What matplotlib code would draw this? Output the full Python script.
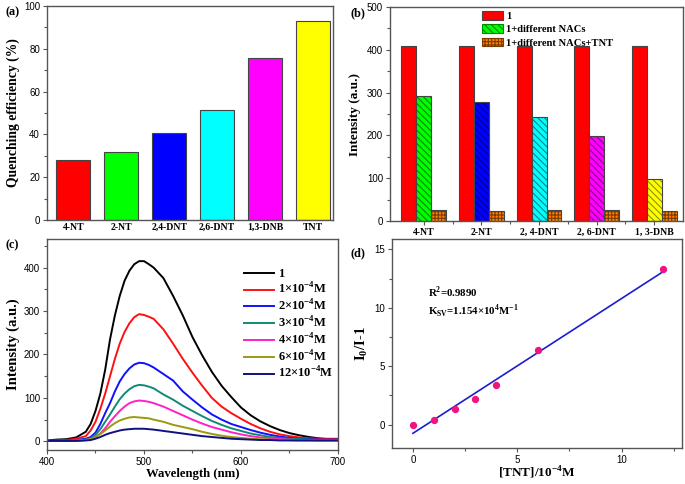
import numpy as np
import matplotlib.pyplot as plt
from matplotlib.patches import Patch
from matplotlib.ticker import MultipleLocator, FixedLocator

plt.rcParams['font.family'] = 'Liberation Sans'
plt.rcParams['mathtext.fontset'] = 'custom'
plt.rcParams['mathtext.rm'] = 'Liberation Serif'
plt.rcParams['mathtext.bf'] = 'Liberation Serif:bold'
plt.rcParams['hatch.linewidth'] = 0.8

# ---- (a) quenching efficiency
nacs_a = ['4-NT', '2-NT', '2,4-DNT', '2,6-DNT', '1,3-DNB', 'TNT']
quench = [28.0, 32.0, 40.5, 51.3, 75.8, 92.8]
colors_a = ['#ff0000', '#00ff00', '#0000ff', '#00ffff', '#ff00ff', '#ffff00']

# ---- (b) intensity
nacs_b = ['4-NT', '2-NT', '2, 4-DNT', '2, 6-DNT', '1, 3-DNB']
int_1 = [408, 408, 408, 408, 408]
int_nac = [293, 278, 242, 198, 99]
int_nac_tnt = [25, 24, 26, 25, 23]
colors_nac = ['#00ff00', '#0000ff', '#00ffff', '#ff00ff', '#ffff00']
hatch_nac = ['#008800', '#000090', '#008888', '#900090', '#909000']

# ---- (c) emission spectra
wl = [400, 410, 420, 430, 440, 445, 450, 455, 460, 465, 470, 475, 480, 485, 490, 495,
      500, 505, 510, 520, 530, 540, 550, 560, 570, 580, 590, 600, 610, 620, 630, 640,
      650, 660, 670, 680, 690, 700]
spec_0 = [2, 4, 5, 9, 22, 40, 70, 110, 165, 235, 290, 335, 370, 393, 408, 415,
          415, 408, 400, 376, 335, 290, 240, 198, 160, 128, 102, 78, 60, 46, 35, 26,
          19, 14, 10, 7, 5, 4]
spec_1 = [1, 2, 3, 6, 12, 25, 45, 75, 110, 150, 190, 225, 252, 272, 286, 293,
          291, 287, 282, 258, 225, 190, 158, 128, 100, 80, 65, 52, 40, 30, 22, 16,
          12, 9, 7, 6, 6, 6]
spec_2 = [1, 1, 2, 3, 6, 10, 20, 40, 65, 88, 115, 138, 155, 168, 177, 181,
          180, 176, 170, 155, 140, 115, 96, 78, 62, 50, 40, 33, 26, 20, 15, 11,
          8, 6, 5, 4, 4, 4]
spec_3 = [1, 1, 1, 2, 4, 7, 15, 28, 45, 62, 80, 97, 110, 120, 127, 130,
          129, 126, 122, 108, 96, 82, 70, 58, 47, 38, 30, 24, 18, 14, 10, 8,
          6, 5, 4, 3, 3, 3]
spec_4 = [1, 1, 1, 2, 3, 5, 10, 18, 30, 45, 58, 70, 80, 88, 92, 94,
          93, 91, 88, 80, 70, 60, 50, 41, 33, 27, 21, 16, 12, 9, 7, 5,
          4, 3, 3, 2, 2, 2]
spec_6 = [1, 1, 1, 1, 3, 5, 10, 17, 25, 34, 42, 48, 52, 55, 56, 55,
          54, 53, 50, 45, 38, 33, 28, 22, 17, 13, 10, 8, 6, 5, 4, 3,
          3, 2, 2, 2, 2, 2]
spec_12 = [1, 1, 1, 1, 2, 3, 6, 10, 15, 19, 22, 25, 27, 28, 29, 29,
           29, 28, 27, 24, 21, 18, 15, 12, 10, 8, 6, 5, 4, 3, 3, 2,
           2, 2, 2, 2, 2, 2]
spectra = [spec_0, spec_1, spec_2, spec_3, spec_4, spec_6, spec_12]
spec_labels = ['1', r'1×10$^{\mathbf{-4}}$M', r'2×10$^{\mathbf{-4}}$M', r'3×10$^{\mathbf{-4}}$M',
               r'4×10$^{\mathbf{-4}}$M', r'6×10$^{\mathbf{-4}}$M', r'12×10$^{\mathbf{-4}}$M']
spec_colors = ['#000000', '#ff1010', '#1010ff', '#108a78', '#ff20c8', '#9a9a10', '#101080']

# ---- (d) Stern-Volmer
tnt = [0, 1, 2, 3, 4, 6, 12]
ratio = [0.0, 0.4, 1.3, 2.2, 3.4, 6.4, 13.3]
fit_x = [0, 12]
fit_y = [-0.75, 13.1]

serif = 'Liberation Serif'
spine_c = '#555555'


def style_axes(ax):
    for sp in ax.spines.values():
        sp.set_color(spine_c)
        sp.set_linewidth(1.0)
    ax.tick_params(which='both', direction='out', colors=spine_c, labelcolor='black',
                   labelsize=7, top=False, right=False, pad=2)
    ax.tick_params(which='major', length=3, width=0.8)
    ax.tick_params(which='minor', length=2, width=0.8)


def bold(size):
    return {'fontfamily': serif, 'fontweight': 'bold', 'fontsize': size}


fig = plt.figure(figsize=(6.85, 4.84), dpi=100)

# (a)
ax1 = fig.add_axes([0.0686, 0.5455, 0.4175, 0.4421])
x = np.arange(len(nacs_a))
ax1.bar(x, quench, 0.71, color=colors_a, edgecolor='#444444', linewidth=0.8)
ax1.set_xlim(-0.55, 5.42)
ax1.set_ylim(0, 100)
style_axes(ax1)
ax1.set_xticks(x)
ax1.set_xticklabels(nacs_a, **bold(7))
ax1.tick_params(axis='x', length=0)
ax1.yaxis.set_major_locator(MultipleLocator(20))
ax1.yaxis.set_minor_locator(MultipleLocator(10))
ax1.set_ylabel('Quenching efficiency (%)', labelpad=3, **bold(9.8))

# (b)
ax2 = fig.add_axes([0.5693, 0.5434, 0.4277, 0.4421])
xb = np.arange(len(nacs_b))
w = 0.26
ax2.bar(xb - w, int_1, w, color='#ff0000', edgecolor='#444444', linewidth=0.8)
ax2.bar(xb, int_nac, w, color=colors_nac, edgecolor=hatch_nac, linewidth=0, hatch='\\\\\\\\\\')
ax2.bar(xb, int_nac, w, fill=False, edgecolor='#444444', linewidth=0.8)
ax2.bar(xb + w, int_nac_tnt, w, color='#ff8000', edgecolor='#7a3a00', linewidth=0, hatch='+++++')
ax2.bar(xb + w, int_nac_tnt, w, fill=False, edgecolor='#444444', linewidth=0.8)
ax2.set_xlim(-0.59, 4.5)
ax2.set_ylim(0, 500)
style_axes(ax2)
ax2.set_xticks(xb)
ax2.set_xticklabels(nacs_b, **bold(7))
ax2.xaxis.set_minor_locator(FixedLocator(xb[:-1] + 0.5))
ax2.yaxis.set_major_locator(MultipleLocator(100))
ax2.yaxis.set_minor_locator(MultipleLocator(50))
ax2.set_ylabel('Intensity (a.u.)', labelpad=4, **bold(9.5))
handles = [Patch(facecolor='#ff0000', edgecolor='#444444', linewidth=0.8),
           Patch(facecolor='#00ff00', edgecolor='#008800', hatch='\\\\\\\\\\', linewidth=0.8),
           Patch(facecolor='#ff8000', edgecolor='#7a3a00', hatch='+++++', linewidth=0.8)]
ax2.legend(handles, ['1', '1+different NACs', '1+different NACs+TNT'],
           loc='upper left', bbox_to_anchor=(0.3, 1.0), frameon=False,
           prop={'family': serif, 'weight': 'bold', 'size': 7.6},
           handlelength=2.0, handleheight=0.9, handletextpad=0.3, labelspacing=0.3,
           borderaxespad=0)

# (c)
ax3 = fig.add_axes([0.0686, 0.0702, 0.4248, 0.436])
for s, lab, c in zip(spectra, spec_labels, spec_colors):
    ax3.plot(wl, s, color=c, linewidth=1.4, label=lab)
ax3.set_xlim(400, 700)
ax3.set_ylim(-20, 466)
style_axes(ax3)
ax3.xaxis.set_major_locator(MultipleLocator(100))
ax3.xaxis.set_minor_locator(MultipleLocator(50))
ax3.yaxis.set_major_locator(MultipleLocator(100))
ax3.yaxis.set_minor_locator(MultipleLocator(50))
ax3.set_xlabel('Wavelength (nm)', labelpad=1, **bold(9.2))
ax3.set_ylabel('Intensity (a.u.)', labelpad=3, **bold(10.5))
ax3.legend(loc='upper left', bbox_to_anchor=(0.66, 0.885), frameon=False,
           prop={'family': serif, 'weight': 'bold', 'size': 9},
           handlelength=2.4, handletextpad=0.3, labelspacing=0.12, borderaxespad=0)

# (d)
ax4 = fig.add_axes([0.5723, 0.0745, 0.4234, 0.432])
ax4.plot(fit_x, fit_y, color='#1c1cd0', linewidth=1.2)
ax4.scatter(tnt, ratio, s=18, color='#f0147f', zorder=3)
ax4.set_xlim(-1, 12.9)
ax4.set_ylim(-2, 15.9)
style_axes(ax4)
ax4.xaxis.set_major_locator(MultipleLocator(5))
ax4.xaxis.set_minor_locator(MultipleLocator(2.5))
ax4.yaxis.set_major_locator(MultipleLocator(5))
ax4.yaxis.set_minor_locator(MultipleLocator(2.5))
ax4.set_xlabel(r'[TNT]/10$^{\mathbf{-4}}$M', labelpad=0, **bold(9.5))
ax4.set_ylabel(r'I$_{\mathbf{0}}$/I-1', labelpad=3, **bold(10.5))
ax4.text(0.124, 0.743, r'R$^{\mathbf{2}}$=0.9890', transform=ax4.transAxes,
         va='center', **bold(7.8))
ax4.text(0.124, 0.652, r'K$_{\mathbf{SV}}$=1.154×10$^{\mathbf{4}}$M$^{\mathbf{-1}}$',
         transform=ax4.transAxes, va='center', **bold(7.8))

# panel labels
for lab, px, py in [('(a)', 5, 12), ('(b)', 350, 13), ('(c)', 5, 245), ('(d)', 350, 253)]:
    fig.text(px / 685, 1 - py / 484, lab, va='center', ha='left', **bold(8.8))

fig.savefig('out.png', dpi=100)
